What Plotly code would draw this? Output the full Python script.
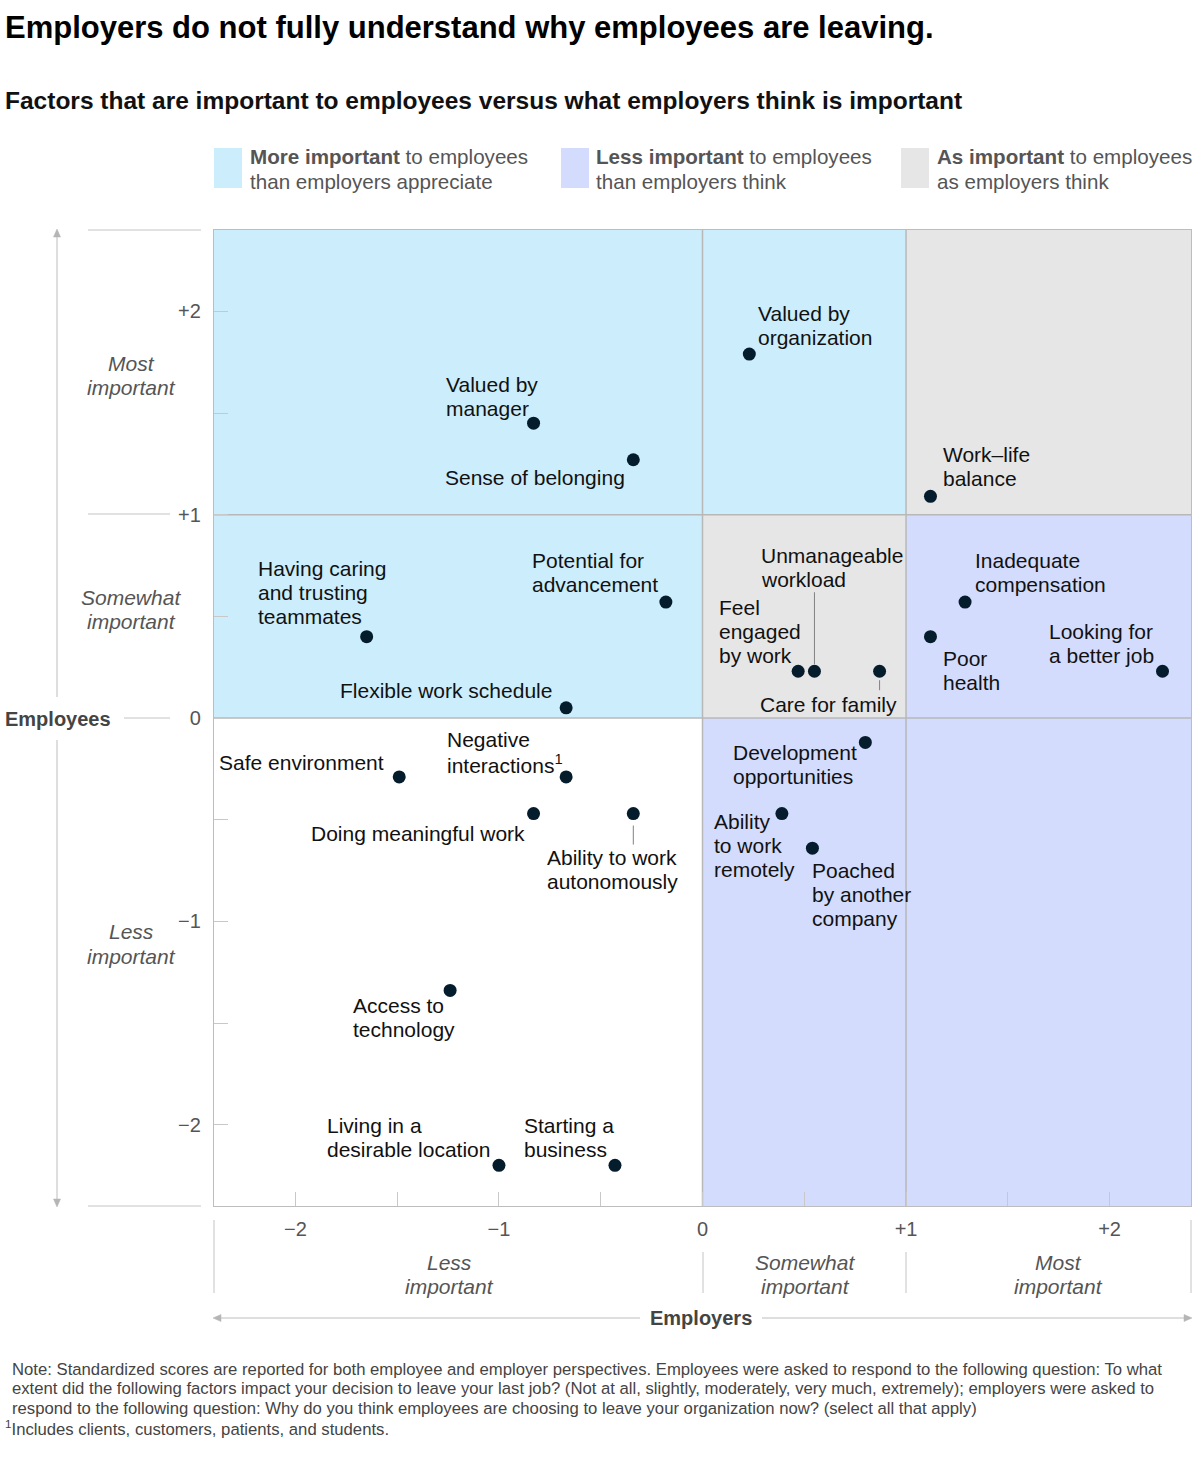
import plotly.graph_objects as go

# ---------------- data ----------------
factors = [
    "Valued by organization", "Valued by manager", "Sense of belonging", "Work–life balance",
    "Potential for advancement", "Having caring and trusting teammates", "Flexible work schedule",
    "Unmanageable workload", "Feel engaged by work", "Care for family", "Inadequate compensation",
    "Poor health", "Looking for a better job", "Development opportunities", "Ability to work remotely",
    "Poached by another company", "Safe environment", "Negative interactions", "Doing meaningful work",
    "Ability to work autonomously", "Access to technology", "Living in a desirable location",
    "Starting a business",
]
employer_scores = [0.23, -0.83, -0.34, 1.12, -0.18, -1.65, -0.67, 0.55, 0.47, 0.87, 1.29, 1.12,
                   2.26, 0.80, 0.39, 0.54, -1.49, -0.67, -0.83, -0.34, -1.24, -1.00, -0.43]
employee_scores = [1.79, 1.45, 1.27, 1.09, 0.57, 0.40, 0.05, 0.23, 0.23, 0.23, 0.57, 0.40,
                   0.23, -0.12, -0.47, -0.64, -0.29, -0.29, -0.47, -0.47, -1.34, -2.20, -2.20]
label_lines = [
    ["Valued by", "organization"], ["Valued by", "manager"], ["Sense of belonging"],
    ["Work–life", "balance"], ["Potential for", "advancement"],
    ["Having caring", "and trusting", "teammates"], ["Flexible work schedule"],
    ["Unmanageable", "workload"], ["Feel", "engaged", "by work"], ["Care for family"],
    ["Inadequate", "compensation"], ["Poor", "health"], ["Looking for", "a better job"],
    ["Development", "opportunities"], ["Ability", "to work", "remotely"],
    ["Poached", "by another", "company"], ["Safe environment"],
    ["Negative", "interactions<sup>1</sup>"], ["Doing meaningful work"],
    ["Ability to work", "autonomously"], ["Access to", "technology"],
    ["Living in a", "desirable location"], ["Starting a", "business"],
]
x_tick_vals = [-2, -1, 0, 1, 2]
x_tick_text = ["−2", "−1", "0", "+1", "+2"]
y_tick_vals = [-2, -1, 0, 1, 2]
y_tick_text = ["−2", "−1", "0", "+1", "+2"]
minor_step = 0.5
thresholds = [0, 1]
AX_MIN, AX_MAX = -2.4, 2.4

# ---------------- styling / placement ----------------
W, H = 1200, 1461
LM, RM, TM, BM = 214, 9, 230, 255
FONT = "Liberation Sans, Arial, sans-serif"
C_BLUE, C_LAV, C_GREY = "#CCEDFC", "#D3DCFD", "#E6E6E6"
LINE_C = "#B8B8B8"
DOT_C = "#051C2C"
DECO_C = "#C4C4C4"

# label offsets in pixels relative to the dot: (anchor, dx, dy of first line centre)
label_place = [
    ("left", 7, -41), ("left", -90, -39), ("right", -6, 18), ("left", 11, -42),
    ("left", -136, -42), ("left", -111, -68), ("right", -12, -17), ("left", -55, -116),
    ("left", -81, -64), ("right", 19, 33), ("left", 8, -42), ("left", 11, 22),
    ("left", -116, -40), ("left", -134, 10), ("left", -70, 8), ("left", -2, 22),
    ("right", -13, -14), ("left", -121, -37), ("right", -7, 20), ("left", -88, 44),
    ("left", -99, 15), ("left", -174, -40), ("left", -93, -40),
]
LINE_H = 24
# leader lines: (factor index, start offset px, end offset px; positive = up)
leaders = [(7, 7, 79), (9, -9, -19), (19, -12, -31)]


def px(xp):
    return (xp - LM) / (W - LM - RM)


def py(yp):
    return (H - BM - yp) / (H - TM - BM)


fig = go.Figure()
fig.add_trace(go.Scatter(
    x=employer_scores, y=employee_scores, mode="markers", text=factors,
    hovertemplate="%{text}<br>Employers: %{x}<br>Employees: %{y}<extra></extra>",
    marker=dict(size=13, color=DOT_C, line=dict(width=0)), showlegend=False,
))

t0, t1 = thresholds
zones = [
    (AX_MIN, t0, t0, AX_MAX, C_BLUE), (t0, t1, t1, AX_MAX, C_BLUE),
    (t1, AX_MAX, t1, AX_MAX, C_GREY), (t0, t1, t0, t1, C_GREY),
    (t1, AX_MAX, t0, t1, C_LAV), (t0, AX_MAX, AX_MIN, t0, C_LAV),
]
shapes = []
for x0, x1, y0, y1, c in zones:
    shapes.append(dict(type="rect", xref="x", yref="y", x0=x0, x1=x1, y0=y0, y1=y1,
                       fillcolor=c, line=dict(width=0), layer="below"))
for t in thresholds:
    shapes.append(dict(type="line", xref="x", yref="y", x0=t, x1=t, y0=AX_MIN, y1=AX_MAX,
                       line=dict(color=LINE_C, width=1.5), layer="below"))
    shapes.append(dict(type="line", xref="x", yref="y", x0=AX_MIN, x1=AX_MAX, y0=t, y1=t,
                       line=dict(color=LINE_C, width=1.5), layer="below"))

# leader lines (pixel offsets from the dot)
for i, a, b in leaders:
    shapes.append(dict(type="line", xref="x", yref="y", x0=employer_scores[i], x1=employer_scores[i],
                       ysizemode="pixel", yanchor=employee_scores[i], y0=a, y1=b,
                       line=dict(color="#808080", width=1)))


# outer decorations (paper coords)
def pline(x0, y0, x1, y1, c=DECO_C, w=1):
    shapes.append(dict(type="line", xref="paper", yref="paper", x0=px(x0), x1=px(x1),
                       y0=py(y0), y1=py(y1), line=dict(color=c, width=w)))


def ptri(pts, c="#B5B5B5"):
    d = "M " + " L ".join(f"{px(a)},{py(b)}" for a, b in pts) + " Z"
    shapes.append(dict(type="path", xref="paper", yref="paper", path=d, fillcolor=c,
                       line=dict(color=c, width=0.5)))


pline(88, 230, 201, 230)
pline(88, 514, 170, 514)
pline(124, 718, 170, 718)
pline(88, 1206, 201, 1206)
pline(214, 1220, 214, 1293)
pline(703, 1252, 703, 1293)
pline(906, 1252, 906, 1293)
pline(1191, 1220, 1191, 1293)
# employee axis arrows
pline(57, 236, 57, 697, "#BDBDBD")
ptri([(57, 229), (53.5, 237), (60.5, 237)])
pline(57, 740, 57, 1200, "#BDBDBD")
ptri([(57, 1207), (53.5, 1199), (60.5, 1199)])
# employer axis arrows
pline(220, 1318, 640, 1318, "#BDBDBD")
ptri([(213, 1318), (221, 1314.5), (221, 1321.5)])
pline(762, 1318, 1185, 1318, "#BDBDBD")
ptri([(1192, 1318), (1184, 1314.5), (1184, 1321.5)])

# legend swatches
for x0, c in [(214, C_BLUE), (561, C_LAV), (901, C_GREY)]:
    shapes.append(dict(type="rect", xref="paper", yref="paper", x0=px(x0), x1=px(x0 + 28),
                       y0=py(188), y1=py(148), fillcolor=c, line=dict(width=0)))

ann = []
# point labels
for i, lines in enumerate(label_lines):
    anchor, dx, dy = label_place[i]
    for j, s in enumerate(lines):
        ann.append(dict(x=employer_scores[i], y=employee_scores[i], xref="x", yref="y",
                        text=s, showarrow=False, xanchor=anchor, yanchor="middle",
                        xshift=dx, yshift=-(dy + j * LINE_H),
                        font=dict(family=FONT, size=21, color="#111111")))


def ptext(x, y, s, size, color, anchor="left", bold=False, italic=False):
    txt = f"<b>{s}</b>" if bold else s
    txt = f"<i>{txt}</i>" if italic else txt
    ann.append(dict(x=px(x), y=py(y), xref="paper", yref="paper", text=txt, showarrow=False,
                    xanchor=anchor, yanchor="middle", font=dict(family=FONT, size=size, color=color)))


ptext(3, 28, "Employers do not fully understand why employees are leaving.", 31, "#000000", bold=True)
ptext(3, 100, "Factors that are important to employees versus what employers think is important",
      24.5, "#111111", bold=True)

LEG_C = "#555555"
ptext(248, 157, "<b>More important</b> to employees", 20.6, LEG_C)
ptext(248, 181, "than employers appreciate", 20.6, LEG_C)
ptext(594, 157, "<b>Less important</b> to employees", 20.6, LEG_C)
ptext(594, 181, "than employers think", 20.6, LEG_C)
ptext(935, 157, "<b>As important</b> to employees", 20.6, LEG_C)
ptext(935, 181, "as employers think", 20.6, LEG_C)

CAT_C = "#555555"
for cx, l1, l2, y1 in [(131, "Most", "important", 363), (131, "Somewhat", "important", 597),
                       (131, "Less", "important", 932)]:
    ptext(cx, y1, l1, 21, CAT_C, anchor="center", italic=True)
    ptext(cx, y1 + 24, l2, 21, CAT_C, anchor="center", italic=True)
for cx, l1, l2 in [(449, "Less", "important"), (805, "Somewhat", "important"),
                   (1058, "Most", "important")]:
    ptext(cx, 1262, l1, 21, CAT_C, anchor="center", italic=True)
    ptext(cx, 1286, l2, 21, CAT_C, anchor="center", italic=True)

ptext(3, 719, "Employees", 20, "#444444", bold=True)
ptext(701, 1318, "Employers", 20, "#444444", anchor="center", bold=True)

notes = [
    "Note: Standardized scores are reported for both employee and employer perspectives. Employees were asked to respond to the following question: To what",
    "extent did the following factors impact your decision to leave your last job? (Not at all, slightly, moderately, very much, extremely); employers were asked to",
    "respond to the following question: Why do you think employees are choosing to leave your organization now? (select all that apply)",
]
for k, s in enumerate(notes):
    ptext(10, 1369 + k * 19.5, s, 16.7, "#444444")
ptext(3, 1428, "<sup>1</sup>Includes clients, customers, patients, and students.", 16.7, "#444444")

axis_common = dict(range=[AX_MIN, AX_MAX], showgrid=False, zeroline=False, showline=True,
                   mirror=True, linecolor="#BDBDBD", linewidth=1.2, ticks="inside", ticklen=14,
                   tickcolor="#C8C8C8", tickwidth=1, fixedrange=True,
                   minor=dict(dtick=minor_step, tick0=0, ticks="inside", ticklen=14,
                              tickcolor="#C8C8C8", tickwidth=1, showgrid=False),
                   tickfont=dict(family=FONT, size=20, color="#555555"))
fig.update_layout(
    width=W, height=H, margin=dict(l=LM, r=RM, t=TM, b=BM, pad=0),
    paper_bgcolor="white", plot_bgcolor="white",
    xaxis=dict(**axis_common, tickmode="array", tickvals=x_tick_vals, ticktext=x_tick_text,
               ticklabelstandoff=5),
    yaxis=dict(**axis_common, tickmode="array", tickvals=y_tick_vals, ticktext=y_tick_text,
               ticklabelstandoff=8),
    shapes=shapes, annotations=ann, showlegend=False,
    font=dict(family=FONT),
)
fig.write_html("out.html", config={"displayModeBar": False},
               post_script="document.body.style.margin='0';")
